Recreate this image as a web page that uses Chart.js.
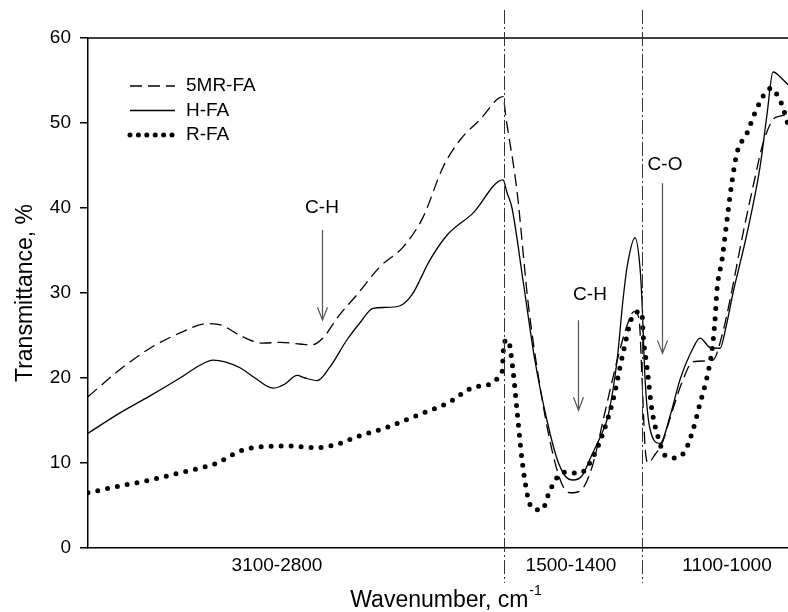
<!DOCTYPE html>
<html>
<head>
<meta charset="utf-8">
<script src="https://cdn.jsdelivr.net/npm/chart.js@4.4.1/dist/chart.umd.min.js"></script>
<style>
  body { margin: 0; background: #fff; }
  canvas { display: block; }
</style>
</head>
<body>
<canvas id="ftir" width="788" height="612"></canvas>
<script>
// x positions are along the broken wavenumber axis (no numeric scale in the figure)
const x5MR = [0, 32, 62, 92, 119, 134, 152, 175, 192, 212, 224, 235, 250, 269, 292, 315, 335, 355, 372, 392, 415,
  418, 429, 440, 452, 464, 474, 482, 492, 504, 517, 529, 540, 546, 551, 554, 557, 560, 567, 574, 584, 594, 605, 617,
  625, 634, 642, 655, 665, 675, 685, 692, 700];
const y5MR = [17.8, 21.0, 23.5, 25.3, 26.4, 26.2, 25.0, 24.1, 24.2, 24.0, 23.9, 24.7, 27.2, 29.8, 33.1, 35.4, 38.9,
  44.8, 48.0, 50.4, 53.1, 50.6, 42.0, 29.0, 19.0, 11.5, 7.5, 6.5, 6.7, 9.5, 16.0, 22.0, 26.5, 27.8, 27.0, 20.0, 12.0,
  10.0, 11.0, 12.3, 16.0, 19.5, 21.9, 22.0, 22.1, 25.0, 29.2, 37.0, 42.5, 47.6, 50.4, 50.8, 51.0];

const xHFA = [0, 32, 62, 92, 112, 125, 137, 152, 167, 185, 197, 209, 217, 229, 242, 259, 272, 285, 297, 312, 324,
  342, 359, 385, 415, 419, 424, 435, 447, 459, 469, 477, 485, 494, 504, 512, 520, 529, 535, 539, 547, 552, 554, 557,
  562, 572, 582, 592, 605, 612, 622, 632, 638, 645, 659, 672, 679, 685, 695, 700];
const yHFA = [13.5, 15.9, 17.9, 20.0, 21.5, 22.1, 21.9, 21.2, 20.0, 18.8, 19.3, 20.3, 20.0, 19.7, 21.3, 24.5, 26.5,
  28.2, 28.3, 28.5, 29.8, 33.9, 36.8, 39.4, 43.3, 41.8, 40.0, 31.5, 22.0, 15.0, 10.5, 8.5, 8.0, 8.5, 11.0, 13.0, 15.5,
  22.0, 29.2, 33.0, 36.5, 33.0, 29.0, 20.0, 14.0, 12.3, 15.5, 19.8, 23.5, 24.7, 23.6, 23.5, 26.0, 30.0, 37.0, 44.8,
  51.0, 56.0, 55.1, 54.5];

const xRFA = [0, 32, 62, 87, 112, 129, 152, 172, 202, 229, 249, 269, 299, 329, 359, 389, 414, 416, 420, 425, 429,
  434, 440, 445, 454, 462, 475, 492, 505, 515, 525, 535, 544, 552, 554, 555, 559, 564, 570, 577, 587, 597, 605, 612,
  619, 624, 627, 629, 634, 639, 644, 649, 659, 667, 677, 683, 691, 695, 700];
const yRFA = [6.5, 7.3, 8.0, 8.7, 9.4, 10.0, 11.4, 11.9, 12.0, 11.8, 12.2, 13.1, 14.2, 15.6, 17.0, 19.0, 20.7, 24.1,
  24.5, 20.9, 16.2, 10.4, 5.9, 4.6, 4.5, 6.8, 8.9, 8.8, 10.7, 13.5, 17.4, 22.9, 27.1, 27.8, 27.6, 25.3, 21.3, 16.2,
  13.1, 10.9, 10.6, 11.4, 13.9, 17.0, 20.1, 23.3, 26.8, 30.4, 33.9, 38.6, 43.1, 46.5, 48.8, 51.2, 53.5, 54.1, 52.9,
  51.8, 49.8];

const seriesNames = ['5MR-FA', 'H-FA', 'R-FA'];
const rangeTicks = [189, 483, 639];
const rangeLabels = ['3100-2800', '1500-1400', '1100-1000'];
const breakLines = [416, 554];
const yTicks = [0, 10, 20, 30, 40, 50, 60];

// band labels with arrows: [text, textX, textY, arrowX, arrowTop, arrowTip]
const bands = [
  ['C-H', 234, 40.0, 234, 37.4, 26.8],
  ['C-H', 502, 29.8, 490, 26.8, 16.2],
  ['C-O', 577, 45.1, 574, 42.9, 22.9]
];

const FONT = "'Liberation Sans', Arial, sans-serif";

function pts(xs, ys) {
  return xs.map((x, i) => ({ x: x, y: ys[i] }));
}

const extras = {
  id: 'extras',
  afterDatasetsDraw(chart) {
    const ctx = chart.ctx;
    const a = chart.chartArea;
    const xs = chart.scales.x, ys = chart.scales.y;
    ctx.save();

    // top frame line
    ctx.strokeStyle = '#000';
    ctx.lineWidth = 1.5;
    ctx.beginPath();
    ctx.moveTo(a.left, a.top);
    ctx.lineTo(a.right, a.top);
    ctx.stroke();

    // dash-dot break lines
    ctx.strokeStyle = '#333';
    ctx.lineWidth = 1;
    ctx.setLineDash([14, 3, 2, 3]);
    breakLines.forEach(v => {
      const px = Math.round(xs.getPixelForValue(v)) + 0.5;
      ctx.beginPath();
      ctx.moveTo(px, 10);
      ctx.lineTo(px, 583);
      ctx.stroke();
    });
    ctx.setLineDash([]);

    // band arrows
    ctx.strokeStyle = '#555';
    ctx.fillStyle = '#000';
    ctx.font = '19px ' + FONT;
    ctx.textAlign = 'center';
    ctx.textBaseline = 'middle';
    bands.forEach(b => {
      ctx.fillText(b[0], xs.getPixelForValue(b[1]), ys.getPixelForValue(b[2]));
      const ax = Math.round(xs.getPixelForValue(b[3])) + 0.5;
      const y0 = ys.getPixelForValue(b[4]);
      const y1 = ys.getPixelForValue(b[5]);
      ctx.lineWidth = 1.2;
      ctx.beginPath();
      ctx.moveTo(ax, y0);
      ctx.lineTo(ax, y1);
      ctx.moveTo(ax - 5, y1 - 13);
      ctx.lineTo(ax, y1);
      ctx.lineTo(ax + 5, y1 - 13);
      ctx.stroke();
    });

    // legend
    ctx.textAlign = 'left';
    chart.data.datasets.forEach((ds, i) => {
      const ly = 86 + i * 24.5;
      ctx.strokeStyle = '#000';
      ctx.lineWidth = ds.borderWidth;
      ctx.lineCap = ds.borderCapStyle || 'butt';
      ctx.setLineDash(i === 2 ? [0, 8.4] : (ds.borderDash || []));
      ctx.beginPath();
      ctx.moveTo(130, ly);
      ctx.lineTo(i === 2 ? 173 : 175, ly);
      ctx.stroke();
      ctx.setLineDash([]);
      ctx.lineCap = 'butt';
      ctx.fillText(ds.label, 186, ly);
    });

    // axis titles
    ctx.font = '23px ' + FONT;
    ctx.textBaseline = 'alphabetic';
    const main = 'Wavenumber, cm';
    const mw = ctx.measureText(main).width;
    ctx.font = '14px ' + FONT;
    const sup = '-1';
    const sw = ctx.measureText(sup).width;
    const startX = 446 - (mw + sw + 1) / 2;
    ctx.font = '23px ' + FONT;
    ctx.fillText(main, startX, 607);
    ctx.font = '14px ' + FONT;
    ctx.fillText(sup, startX + mw + 1, 595);

    ctx.font = '23px ' + FONT;
    ctx.translate(32, (a.top + a.bottom) / 2);
    ctx.rotate(-Math.PI / 2);
    ctx.textAlign = 'center';
    ctx.fillText('Transmittance, %', 0, 0);
    ctx.restore();
  }
};

new Chart(document.getElementById('ftir').getContext('2d'), {
  type: 'line',
  data: {
    datasets: [
      {
        label: seriesNames[0],
        data: pts(x5MR, y5MR),
        borderColor: '#000',
        borderWidth: 1.3,
        borderDash: [12, 6],
        pointRadius: 0,
        fill: false,
        cubicInterpolationMode: 'monotone'
      },
      {
        label: seriesNames[1],
        data: pts(xHFA, yHFA),
        borderColor: '#000',
        borderWidth: 1.3,
        pointRadius: 0,
        fill: false,
        cubicInterpolationMode: 'monotone'
      },
      {
        label: seriesNames[2],
        data: pts(xRFA, yRFA),
        borderColor: '#000',
        borderWidth: 5,
        borderDash: [0, 10],
        borderCapStyle: 'round',
        pointRadius: 0,
        fill: false,
        cubicInterpolationMode: 'monotone'
      }
    ]
  },
  options: {
    responsive: false,
    animation: false,
    layout: { padding: { top: 38, right: 0, left: 0, bottom: 0 } },
    plugins: { legend: { display: false }, tooltip: { enabled: false } },
    scales: {
      x: {
        type: 'linear',
        min: 0,
        max: 700,
        afterBuildTicks: s => { s.ticks = rangeTicks.map(v => ({ value: v })); },
        afterFit: s => { s.height = 64; },
        grid: { display: true, drawOnChartArea: false, drawTicks: false },
        border: { display: true, color: '#000', width: 1.5 },
        ticks: {
          autoSkip: false,
          maxRotation: 0,
          padding: 6,
          color: '#000',
          font: { family: FONT, size: 19 },
          callback: v => rangeLabels[rangeTicks.indexOf(v)]
        }
      },
      y: {
        min: 0,
        max: 60,
        afterBuildTicks: s => { s.ticks = yTicks.map(v => ({ value: v })); },
        afterFit: s => { s.width = 88; },
        grid: { drawOnChartArea: false, drawTicks: true, tickLength: 8, color: '#000', lineWidth: 1.5 },
        border: { display: true, color: '#000', width: 1.5 },
        ticks: {
          padding: 9,
          color: '#000',
          font: { family: FONT, size: 19 }
        }
      }
    }
  },
  plugins: [extras]
});
</script>
</body>
</html>
